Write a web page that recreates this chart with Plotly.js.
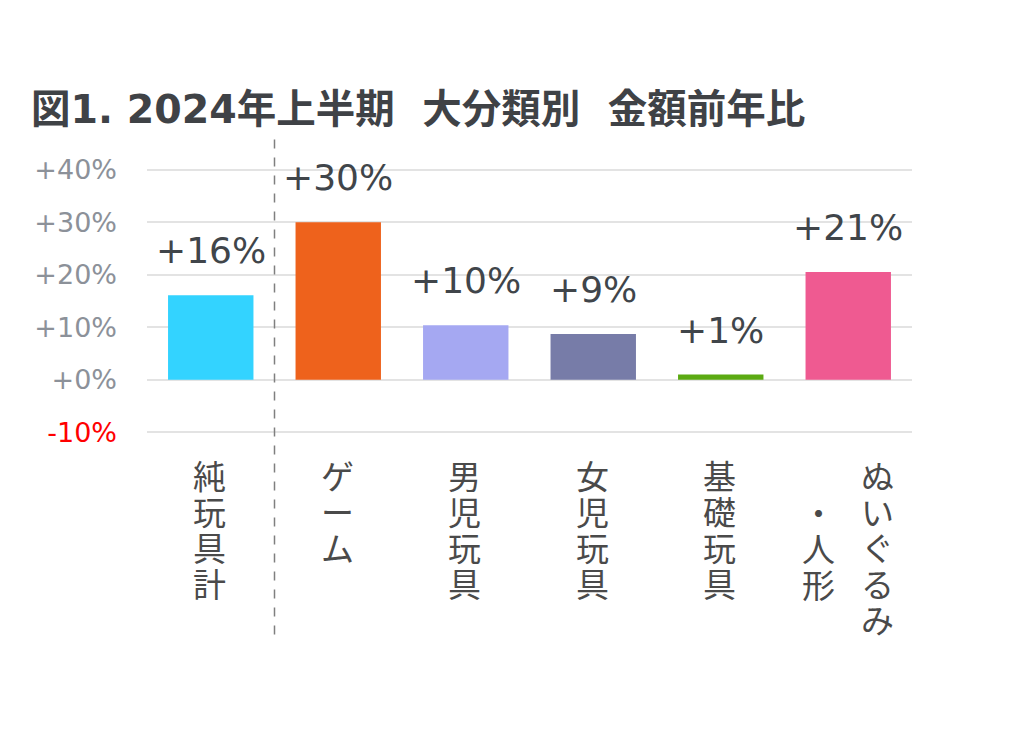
<!DOCTYPE html>
<html>
<head>
<meta charset="utf-8">
<script src="https://cdn.plot.ly/plotly-3.0.1.min.js"></script>
<style>html,body{margin:0;padding:0;background:#fff;}#chart{width:1023px;height:738px;}</style>
</head>
<body>
<div id="chart"></div>
<script>
const categories = ["純玩具計", "ゲーム", "男児玩具", "女児玩具", "基礎玩具", "ぬいぐるみ・人形"];
const values = [16.1, 30.0, 10.4, 8.7, 1.0, 20.5];
const valueLabels = ["+16%", "+30%", "+10%", "+9%", "+1%", "+21%"];
const barColors = ["#33D3FF", "#EE621C", "#A5A8F2", "#777CA8", "#5BAA12", "#EF5A91"];
const tickValues = [-10, 0, 10, 20, 30, 40];
const tickLabels = ['<span style="color:#FF0000">-10%</span>', "+0%", "+10%", "+20%", "+30%", "+40%"];

const FONT = "DejaVu Sans, Noto Sans CJK JP, sans-serif";
const CJK = "Noto Sans CJK JP, DejaVu Sans, sans-serif";

// plot area pixel geometry (for paper conversion)
const plotTop = 167.4, plotBottom = 434.6, plotH = plotBottom - plotTop;
const py = p => (plotBottom - p) / plotH;

const annotations = [];
categories.forEach((c, i) => {
  annotations.push({
    x: i, y: values[i], xref: "x", yref: "y",
    text: valueLabels[i], showarrow: false, yanchor: "bottom", yshift: 22,
    font: {family: FONT, size: 36, color: "#40454A"}
  });
});
// vertical category labels: one text per column, tight line pitch (1.3 * 27.7 = 36px)
const labelTop = 449, rowPitch = 36;
function column(chars, i, xshift, startRow) {
  const txt = chars.split("").map(ch => '<span style="font-size:33px">' + ch + '</span>').join("<br>");
  annotations.push({
    x: i, y: py(labelTop + rowPitch * startRow), xref: "x", yref: "paper",
    xshift: xshift, text: txt, showarrow: false, yanchor: "top", xanchor: "center",
    font: {family: CJK, size: 27.7, color: "#4A4A4A"}
  });
}
categories.forEach((c, i) => {
  if (c.indexOf("・") >= 0) {
    const parts = c.split("・");
    column(parts[0], i, 29, 0);
    column("・" + parts[1], i, -30, 1);
  } else {
    column(c, i, -1, 0);
  }
});

const data = [{
  type: "bar", x: categories.map((c, i) => i), y: values,
  marker: {color: barColors}, width: 0.67, hoverinfo: "skip"
}];

const layout = {
  width: 1023, height: 738,
  paper_bgcolor: "#fff", plot_bgcolor: "#fff",
  margin: {l: 147, r: 111, t: plotTop, b: 738 - plotBottom, pad: 0},
  showlegend: false,
  title: {
    text: "<b>図1. 2024年上半期\u00a0\u00a0大分類別\u00a0\u00a0金額前年比</b>",
    x: 31 / 1023, xanchor: "left", xref: "container",
    y: 1 - 109 / 738, yanchor: "middle", yref: "container",
    font: {family: FONT, size: 39.5, color: "#3F4246"}
  },
  xaxis: {range: [-0.5, 5.5], showticklabels: false, showgrid: false, zeroline: false, showline: false, ticks: "", fixedrange: true},
  yaxis: {
    range: [-10.5, 40.5], tickvals: tickValues, ticktext: tickLabels,
    showgrid: true, gridcolor: "#E3E3E3", gridwidth: 2,
    zeroline: true, zerolinecolor: "#E3E3E3", zerolinewidth: 2,
    showline: false, ticks: "", ticklabelstandoff: 29,
    tickfont: {family: FONT, size: 27, color: "#8C9199"}
  },
  shapes: [{
    type: "line", xref: "x", yref: "paper", x0: 0.5, x1: 0.5, y0: py(140), y1: py(640),
    line: {color: "#7F7F7F", width: 1.5, dash: "dash"}
  }],
  annotations: annotations
};

Plotly.newPlot("chart", data, layout, {displayModeBar: false, staticPlot: true});
</script>
</body>
</html>
